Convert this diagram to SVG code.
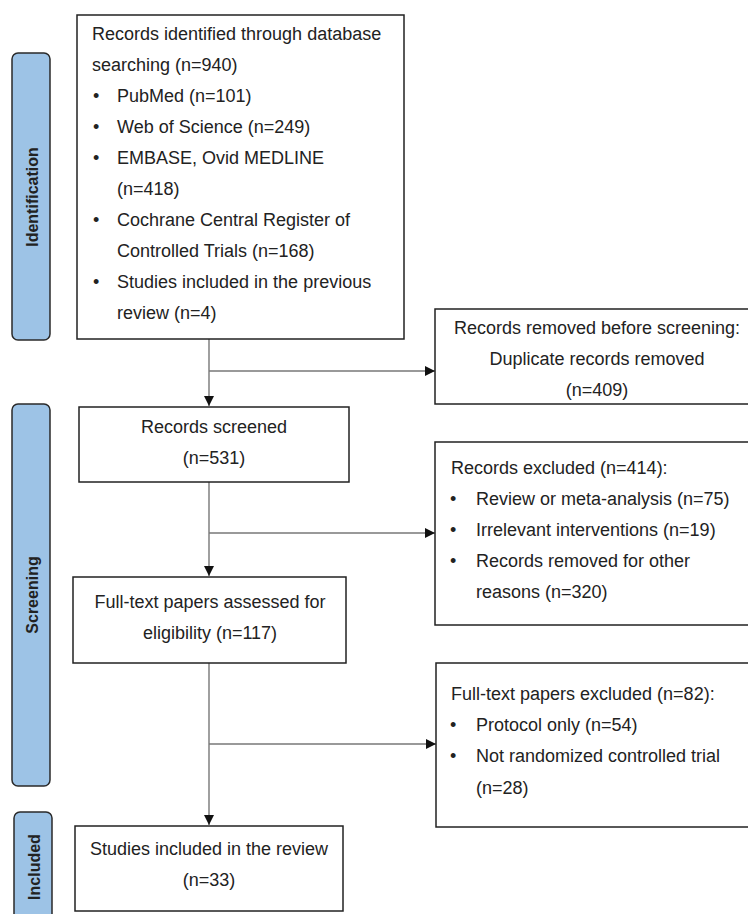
<svg xmlns="http://www.w3.org/2000/svg" width="748" height="914" viewBox="0 0 748 914">
<style>
.box{fill:#fff;stroke:#222;stroke-width:1.5}
.lbl{fill:#9dc3e6;stroke:#2a2a2a;stroke-width:1.5}
.t{font-family:"Liberation Sans",Arial,sans-serif;font-size:18px;fill:#222}
.c{text-anchor:middle}
.v{font-family:"Liberation Sans",Arial,sans-serif;font-size:16px;font-weight:bold;fill:#222;text-anchor:middle}
.ln{stroke:#777;stroke-width:1.4;fill:none}
</style>
<defs>
<marker id="ah" markerUnits="userSpaceOnUse" markerWidth="10" markerHeight="10" refX="10" refY="5" orient="auto">
<path d="M0,0 L10,5 L0,10 z" fill="#111"/>
</marker>
</defs>
<rect width="748" height="914" fill="#fff"/>
<g id="label-identification">
<rect class="lbl" x="12" y="53" width="38" height="287" rx="6"/>
<text class="v" transform="translate(37.5,197) rotate(-90)">Identification</text>
</g>
<g id="label-screening">
<rect class="lbl" x="12" y="404" width="38" height="382" rx="6"/>
<text class="v" transform="translate(37.5,595) rotate(-90)">Screening</text>
</g>
<g id="label-included">
<rect class="lbl" x="14" y="812" width="38" height="130" rx="6"/>
<text class="v" transform="translate(39.5,867) rotate(-90)">Included</text>
</g>
<g id="connectors">
<path class="ln" d="M209,339 V406" marker-end="url(#ah)"/>
<path class="ln" d="M209,371 H435" marker-end="url(#ah)"/>
<path class="ln" d="M209,482 V576" marker-end="url(#ah)"/>
<path class="ln" d="M209,533 H435" marker-end="url(#ah)"/>
<path class="ln" d="M209,663 V825" marker-end="url(#ah)"/>
<path class="ln" d="M209,744 H436" marker-end="url(#ah)"/>
</g>
<g id="node-identified">
<rect class="box" x="77" y="15" width="327" height="324"/>
<text class="t" x="92" y="40">Records identified through database</text>
<text class="t" x="92" y="71">searching (n=940)</text>
<text class="t" x="93" y="102">•</text><text class="t" x="117" y="102">PubMed (n=101)</text>
<text class="t" x="93" y="133">•</text><text class="t" x="117" y="133">Web of Science (n=249)</text>
<text class="t" x="93" y="164">•</text><text class="t" x="117" y="164">EMBASE, Ovid MEDLINE</text>
<text class="t" x="117" y="195">(n=418)</text>
<text class="t" x="93" y="226">•</text><text class="t" x="117" y="226">Cochrane Central Register of</text>
<text class="t" x="117" y="257">Controlled Trials (n=168)</text>
<text class="t" x="93" y="288">•</text><text class="t" x="117" y="288">Studies included in the previous</text>
<text class="t" x="117" y="319">review (n=4)</text>
</g>
<g id="node-removed">
<rect class="box" x="435" y="309" width="330" height="95"/>
<text class="t c" x="597" y="334">Records removed before screening:</text>
<text class="t c" x="597" y="365">Duplicate records removed</text>
<text class="t c" x="597" y="396">(n=409)</text>
</g>
<g id="node-screened">
<rect class="box" x="79" y="407" width="270" height="75"/>
<text class="t c" x="214" y="432.5">Records screened</text>
<text class="t c" x="214" y="463.5">(n=531)</text>
</g>
<g id="node-excluded">
<rect class="box" x="435" y="442" width="330" height="183"/>
<text class="t" x="451" y="473.5">Records excluded (n=414):</text>
<text class="t" x="450" y="504.5">•</text><text class="t" x="476" y="504.5">Review or meta-analysis (n=75)</text>
<text class="t" x="450" y="535.5">•</text><text class="t" x="476" y="535.5">Irrelevant interventions (n=19)</text>
<text class="t" x="450" y="566.5">•</text><text class="t" x="476" y="566.5">Records removed for other</text>
<text class="t" x="476" y="598">reasons (n=320)</text>
</g>
<g id="node-fulltext">
<rect class="box" x="73" y="577" width="273" height="86"/>
<text class="t c" x="210" y="607.5">Full-text papers assessed for</text>
<text class="t c" x="210" y="638.5">eligibility (n=117)</text>
</g>
<g id="node-ft-excluded">
<rect class="box" x="436" y="663" width="330" height="164"/>
<text class="t" x="451" y="699.5">Full-text papers excluded (n=82):</text>
<text class="t" x="450" y="731">•</text><text class="t" x="476" y="731">Protocol only (n=54)</text>
<text class="t" x="450" y="762">•</text><text class="t" x="476" y="762">Not randomized controlled trial</text>
<text class="t" x="476" y="793.5">(n=28)</text>
</g>
<g id="node-included">
<rect class="box" x="75" y="826" width="268" height="85"/>
<text class="t c" x="209" y="854.5">Studies included in the review</text>
<text class="t c" x="209" y="885.5">(n=33)</text>
</g>
</svg>
